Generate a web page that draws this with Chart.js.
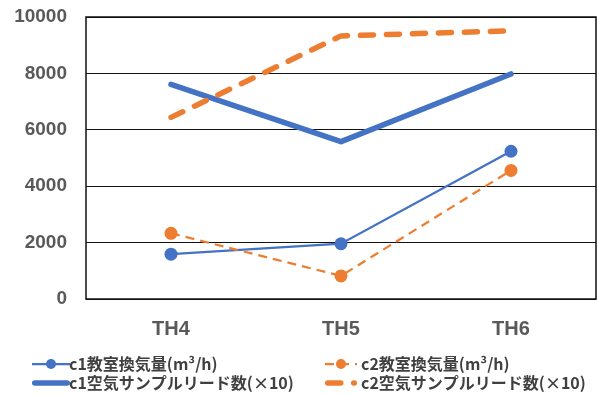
<!DOCTYPE html>
<html>
<head>
<meta charset="utf-8">
<script src="https://cdn.jsdelivr.net/npm/chart.js@4/dist/chart.umd.min.js"></script>
<style>
  html, body { margin: 0; padding: 0; background: #fff; }
  #wrap { position: relative; width: 597px; height: 394px; }
</style>
</head>
<body>
<div id="wrap"><canvas id="c" width="597" height="394"></canvas></div>
<script>
// Categories (measurement rooms)
const categories = ['TH4', 'TH5', 'TH6'];

// Classroom ventilation volume (m³/h)
const c1Ventilation = [1590, 1960, 5240];
const c2Ventilation = [2330, 820, 4560];

// Air sampler read counts (×10)
const c1SampleReads = [7610, 5580, 7980];
const c2SampleReads = [6440, 9330, 9510];

// Y axis tick values
const yTicks = [0, 2000, 4000, 6000, 8000, 10000];

// Series labels
const seriesLabels = [
  'c1教室換気量(m³/h)',
  'c2教室換気量(m³/h)',
  'c1空気サンプルリード数(×10)',
  'c2空気サンプルリード数(×10)'
];

const BLUE = '#4472C4';
const ORANGE = '#ED7D31';

// Plot frame around the chart area
const framePlugin = {
  id: 'frame',
  afterDraw(chart) {
    const { ctx, chartArea: a } = chart;
    ctx.save();
    ctx.strokeStyle = '#111';
    ctx.lineWidth = 1.5;
    ctx.strokeRect(a.left, a.top, a.right - a.left, a.bottom - a.top);
    ctx.restore();
  }
};

// Two-column legend below the plot, drawn from the dataset styles
const legendPlugin = {
  id: 'gridLegend',
  afterDraw(chart) {
    const { ctx } = chart;
    // [sample start, sample end, text x] per column
    const cols = [[32, 70, 69], [325, 357, 361]];
    const rows = [364, 383];
    ctx.save();
    ctx.font = 'bold 16px "Noto Sans CJK JP"';
    ctx.textBaseline = 'middle';
    chart.data.datasets.forEach((ds, i) => {
      const [xs, xe, xt] = cols[i % 2];
      const y = rows[Math.floor(i / 2)];
      const round = ds.borderCapStyle === 'round';
      const cap = round ? ds.borderWidth / 2 : 0;
      ctx.strokeStyle = ds.borderColor;
      ctx.lineWidth = ds.borderWidth;
      ctx.lineCap = round ? 'round' : 'butt';
      ctx.setLineDash(ds.borderDash || []);
      ctx.beginPath();
      ctx.moveTo(xs + cap, y);
      ctx.lineTo(xe - cap, y);
      ctx.stroke();
      ctx.setLineDash([]);
      if (ds.pointRadius > 0) {
        ctx.fillStyle = ds.pointBackgroundColor;
        ctx.beginPath();
        ctx.arc((xs + xe) / 2, y, 5, 0, Math.PI * 2);
        ctx.fill();
      }
      ctx.fillStyle = '#404040';
      ctx.fillText(ds.label, xt, y);
    });
    ctx.restore();
  }
};

new Chart(document.getElementById('c'), {
  type: 'line',
  data: {
    labels: categories,
    datasets: [
      {
        label: seriesLabels[0], data: c1Ventilation,
        borderColor: BLUE, borderWidth: 2.25,
        pointRadius: 6.5, pointBackgroundColor: BLUE, pointBorderColor: BLUE, pointBorderWidth: 0,
        order: 4
      },
      {
        label: seriesLabels[1], data: c2Ventilation,
        borderColor: ORANGE, borderWidth: 2.25, borderDash: [9, 6],
        pointRadius: 6.5, pointBackgroundColor: ORANGE, pointBorderColor: ORANGE, pointBorderWidth: 0,
        order: 3
      },
      {
        label: seriesLabels[2], data: c1SampleReads,
        borderColor: BLUE, borderWidth: 5.5, borderCapStyle: 'round', borderJoinStyle: 'round',
        pointRadius: 0,
        order: 2
      },
      {
        label: seriesLabels[3], data: c2SampleReads,
        borderColor: ORANGE, borderWidth: 5.5, borderDash: [13, 13], borderCapStyle: 'round', borderJoinStyle: 'round',
        pointRadius: 0,
        order: 1
      }
    ]
  },
  options: {
    responsive: false,
    animation: false,
    layout: { autoPadding: false, padding: { top: 17, right: 1, bottom: 0, left: 0 } },
    plugins: { legend: { display: false }, tooltip: { enabled: false } },
    scales: {
      x: {
        offset: true,
        grid: { display: false, drawTicks: false },
        border: { display: false },
        ticks: {
          padding: 18,
          color: '#595959',
          font: { family: '"Liberation Sans", Arial, sans-serif', size: 20, weight: 'bold' }
        },
        afterFit(scale) { scale.height = 95; scale.paddingLeft = 0; scale.paddingRight = 0; }
      },
      y: {
        min: 0, max: 10000,
        afterBuildTicks(scale) { scale.ticks = yTicks.map(v => ({ value: v })); },
        grid: { color: '#111', lineWidth: 1, drawTicks: false },
        border: { display: false },
        ticks: {
          padding: 19,
          color: '#595959',
          font: { family: '"Liberation Sans", Arial, sans-serif', size: 19, weight: 'bold' },
          callback: v => String(v)
        },
        afterFit(scale) { scale.width = 86; scale.paddingTop = 0; scale.paddingBottom = 0; }
      }
    }
  },
  plugins: [framePlugin, legendPlugin]
});
</script>
</body>
</html>
